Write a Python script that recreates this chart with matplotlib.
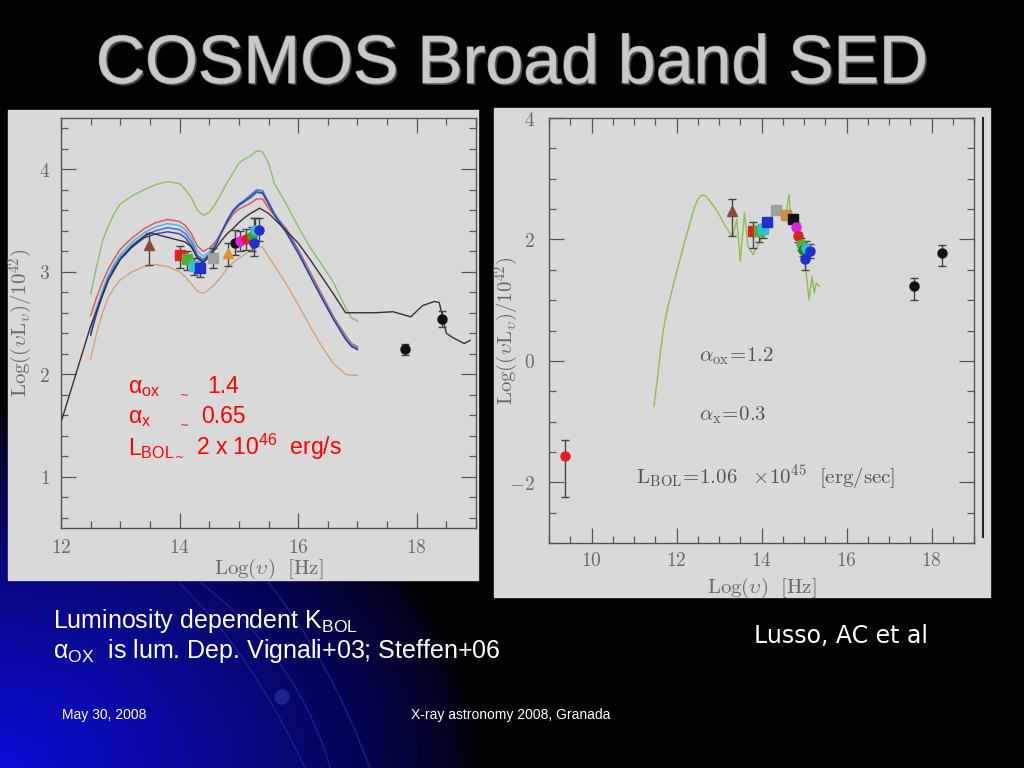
import numpy as np
import matplotlib
matplotlib.use('Agg')
import matplotlib.pyplot as plt
from matplotlib.patches import Rectangle, PathPatch, Circle
from matplotlib.path import Path
from matplotlib.ticker import MultipleLocator, FuncFormatter
import matplotlib.patheffects as pe

plt.rcParams['mathtext.fontset'] = 'cm'
plt.rcParams['mathtext.rm'] = 'Liberation Sans'
plt.rcParams['mathtext.it'] = 'Liberation Sans:italic'
plt.rcParams['mathtext.bf'] = 'Liberation Sans:bold'

# ---- left panel: AGN templates (log nu, log nuLnu/1e42)
tpl_x = [12.5, 12.6, 12.7, 12.8, 12.9, 13.0, 13.2, 13.4, 13.6, 13.8, 14.0, 14.1,
         14.2, 14.3, 14.4, 14.5, 14.6, 14.7, 14.8, 14.9, 15.0, 15.1, 15.2, 15.3,
         15.4, 15.5, 15.6, 15.8, 16.0, 16.2, 16.4, 16.6, 16.8, 16.9, 17.0]
tpl_green = [2.78, 3.05, 3.30, 3.45, 3.57, 3.66, 3.74, 3.80, 3.85, 3.88, 3.86, 3.80,
             3.72, 3.60, 3.55, 3.58, 3.66, 3.76, 3.87, 3.96, 4.06, 4.10, 4.13, 4.18,
             4.17, 4.06, 3.86, 3.66, 3.44, 3.24, 3.07, 2.89, 2.65, 2.55, 2.52]
tpl_red = [2.57, 2.75, 2.90, 3.03, 3.13, 3.22, 3.33, 3.42, 3.48, 3.51, 3.49, 3.45,
           3.37, 3.25, 3.20, 3.23, 3.29, 3.38, 3.47, 3.56, 3.61, 3.64, 3.67, 3.71,
           3.71, 3.62, 3.55, 3.42, 3.22, 3.00, 2.78, 2.56, 2.38, 2.30, 2.27]
tpl_cyan = [2.45, 2.65, 2.82, 2.97, 3.08, 3.17, 3.29, 3.38, 3.44, 3.47, 3.45, 3.41,
            3.33, 3.20, 3.15, 3.19, 3.27, 3.38, 3.49, 3.58, 3.64, 3.68, 3.72, 3.77,
            3.76, 3.66, 3.56, 3.40, 3.20, 2.98, 2.76, 2.55, 2.36, 2.29, 2.26]
tpl_blue = [2.40, 2.61, 2.79, 2.94, 3.05, 3.14, 3.26, 3.35, 3.40, 3.43, 3.41, 3.37,
            3.29, 3.16, 3.12, 3.17, 3.26, 3.38, 3.50, 3.60, 3.66, 3.70, 3.75, 3.80,
            3.79, 3.68, 3.57, 3.40, 3.20, 2.97, 2.75, 2.54, 2.35, 2.28, 2.25]
tpl_navy = [2.38, 2.59, 2.77, 2.92, 3.03, 3.12, 3.24, 3.33, 3.37, 3.39, 3.37, 3.33,
            3.25, 3.13, 3.09, 3.14, 3.24, 3.37, 3.49, 3.59, 3.65, 3.69, 3.73, 3.78,
            3.77, 3.66, 3.55, 3.38, 3.18, 2.96, 2.74, 2.53, 2.34, 2.27, 2.24]
tpl_orange = [2.15, 2.40, 2.60, 2.75, 2.85, 2.92, 3.00, 3.05, 3.07, 3.05, 3.00, 2.95,
              2.88, 2.81, 2.79, 2.83, 2.88, 2.95, 3.03, 3.09, 3.13, 3.17, 3.21, 3.25,
              3.24, 3.15, 3.06, 2.88, 2.68, 2.47, 2.27, 2.10, 2.00, 1.99, 1.99]

sed_x = [12.0, 12.5, 12.6, 12.8, 13.0, 13.2, 13.4, 13.5, 13.7, 13.9, 14.1, 14.2, 14.3,
         14.4, 14.5, 14.6, 14.7, 14.8, 14.9, 15.0, 15.1, 15.2, 15.35, 15.5, 15.8, 16.0,
         16.2, 16.4, 16.6, 16.8, 17.0, 17.3, 17.6, 17.9, 18.1, 18.3, 18.38, 18.5, 18.6,
         18.8, 18.9]
sed_y = [1.53, 2.47, 2.62, 2.92, 3.12, 3.25, 3.34, 3.38, 3.35, 3.32, 3.29, 3.24, 3.14,
         3.10, 3.16, 3.22, 3.30, 3.37, 3.42, 3.48, 3.53, 3.57, 3.62, 3.57, 3.40, 3.28,
         3.12, 2.95, 2.78, 2.60, 2.60, 2.60, 2.61, 2.56, 2.67, 2.71, 2.70, 2.40, 2.36,
         2.30, 2.33]

L_x = [13.49, 14.00, 14.13, 14.24, 14.35, 14.57, 14.82, 14.94, 15.02, 15.12, 15.22,
       15.27, 15.26, 15.34, 17.80, 18.43]
L_y = [3.26, 3.16, 3.12, 3.06, 3.04, 3.13, 3.18, 3.28, 3.30, 3.32, 3.35, 3.41, 3.28,
       3.41, 2.25, 2.54]
L_lo = [3.07, 3.04, 3.02, 2.97, 2.95, 3.04, 3.06, 3.16, 3.20, 3.21, 3.20, 3.30, 3.15,
        3.30, 2.19, 2.46]
L_hi = [3.38, 3.25, 3.20, 3.13, 3.10, 3.23, 3.28, 3.41, 3.40, 3.42, 3.44, 3.52, 3.52,
        3.52, 2.30, 2.62]
L_col = ['#8b4a3a', '#e02020', '#50b030', '#30c0d0', '#2030d0', '#a0a0a0', '#e09030',
         '#111111', '#e020e0', '#e02020', '#40a030', '#30c0d0', '#2030d0', '#2030d0',
         '#111111', '#111111']
L_mk = ['^', 's', 's', 's', 's', 's', '^', 'o', 'o', 'o', 'o', 'o', 'o', 'o', 'o', 'o']

# ---- right panel
G_x = [11.47, 11.55, 11.62, 11.69, 11.80, 11.90, 12.00, 12.10, 12.20, 12.32, 12.42,
       12.50, 12.59, 12.68, 12.80, 12.98, 13.10, 13.25, 13.33, 13.42, 13.50, 13.60,
       13.68, 13.80, 13.95, 14.11, 14.26, 14.42, 14.58, 14.65, 14.68, 14.81, 14.93,
       15.01, 15.06, 15.12, 15.19, 15.24, 15.29, 15.36]
G_y = [-0.75, -0.30, 0.15, 0.51, 0.90, 1.18, 1.45, 1.72, 1.98, 2.28, 2.52, 2.66, 2.73,
       2.72, 2.62, 2.44, 2.28, 2.11, 2.05, 2.33, 1.64, 2.44, 1.89, 1.75, 1.95, 2.17,
       2.39, 2.47, 2.44, 2.74, 2.39, 2.28, 2.00, 1.72, 1.39, 1.01, 1.39, 1.12, 1.28,
       1.23]

R_x = [9.37, 13.31, 13.80, 13.94, 14.03, 14.12, 14.34, 14.58, 14.73, 14.80, 14.87,
       14.93, 14.98, 15.05, 15.14, 15.03, 17.58, 18.24]
R_y = [-1.56, 2.47, 2.14, 2.14, 2.17, 2.28, 2.48, 2.41, 2.34, 2.21, 2.05, 1.92, 1.83,
       1.86, 1.81, 1.68, 1.23, 1.77]
R_lo = [-2.24, 2.05, 1.86, 1.95, 2.03, 2.22, 2.43, 2.35, 2.28, 2.15, 1.96, 1.82, 1.72,
        1.75, 1.70, 1.50, 1.01, 1.56]
R_hi = [-1.31, 2.66, 2.29, 2.22, 2.26, 2.33, 2.54, 2.46, 2.40, 2.27, 2.13, 2.02, 1.93,
        1.97, 1.92, 1.80, 1.37, 1.91]
R_col = ['#e02020', '#8b4a3a', '#e02020', '#50b030', '#30c0d0', '#2030d0', '#a0a0a0',
         '#c89040', '#111111', '#e020e0', '#e02020', '#50b030', '#208020', '#30c0d0',
         '#2030d0', '#2030d0', '#111111', '#111111']
R_mk = ['o', '^', 's', 's', 's', 's', 's', 's', 's', 'o', 'o', 'o', 'o', 'o', 'o', 'o',
        'o', 'o']

fig = plt.figure(figsize=(10.24, 7.68), dpi=100)

# slide background
bg = fig.add_axes([0, 0, 1, 1])
bg.set_xlim(0, 1024)
bg.set_ylim(768, 0)
bg.axis('off')
yy, xx = np.mgrid[0:768, 0:1024]
d = np.sqrt((xx / 480.0) ** 2 + ((768 - yy) / 360.0) ** 2)
k = np.clip(1 - d, 0, 1) ** 0.7
img = np.dstack([0.05 * k, 0.05 * k, 0.85 * k])
bg.imshow(img, extent=[0, 1024, 768, 0], aspect='auto', zorder=0)
for p0, p1, p2 in [((178, 582), (250, 650), (305, 768)),
                   ((200, 582), (300, 660), (330, 768)),
                   ((268, 582), (330, 660), (370, 768))]:
    path = Path([p0, p1, p2], [Path.MOVETO, Path.CURVE3, Path.CURVE3])
    bg.add_patch(PathPatch(path, fc='none', ec='#1a2290', lw=0.9, zorder=1))
bg.add_patch(Circle((282, 697), 7, color='#1a2290', zorder=1))
bg.add_patch(Rectangle((8, 110), 470, 470, color='#d9d9d9', zorder=2))
bg.add_patch(Rectangle((494, 108), 496, 489, color='#d9d9d9', zorder=2))
bg.plot([983, 983], [118, 537], color='#222222', lw=1.5, zorder=3)

bg.text(512, 65, 'COSMOS Broad band SED', fontsize=49, family='Liberation Sans',
        color='#c8c8c8', ha='center', va='center', zorder=5,
        path_effects=[pe.withSimplePatchShadow(offset=(1.5, -1.5), shadow_rgbFace='#404040', alpha=1),
                      pe.withStroke(linewidth=1, foreground='#8a8a8a')])

bg.text(53, 628, r'Luminosity dependent K$_{\mathrm{BOL}}$', fontsize=18,
        family='Liberation Sans', math_fontfamily='custom', color='white', zorder=5)
bg.text(53, 658, r'α$_{\mathrm{OX}}$  is lum. Dep. Vignali+03; Steffen+06', fontsize=18,
        family='Liberation Sans', math_fontfamily='custom', color='white', zorder=5)
bg.text(754, 643, 'Lusso, AC et al', fontsize=17, family='DejaVu Sans', color='white', zorder=5)
bg.text(62, 719, 'May 30, 2008', fontsize=10, family='Liberation Sans', color='white', zorder=5)
bg.text(411, 719, 'X-ray astronomy 2008, Granada', fontsize=10, family='Liberation Sans',
        color='white', zorder=5)


def style(ax, yminor, xlab_y, ylab_x):
    ax.set_facecolor('none')
    for s in ax.spines.values():
        s.set_color('#555555')
        s.set_linewidth(1.0)
    ax.xaxis.set_major_locator(MultipleLocator(2))
    ax.xaxis.set_minor_locator(MultipleLocator(0.5))
    ax.yaxis.set_minor_locator(MultipleLocator(yminor))
    fmt = FuncFormatter(lambda v, p: '$%g$' % v)
    ax.xaxis.set_major_formatter(fmt)
    ax.yaxis.set_major_formatter(fmt)
    ax.tick_params(which='both', direction='in', top=True, right=True, color='#555555',
                   width=0.9, labelcolor='#6a6a6a', labelsize=14)
    ax.tick_params(which='major', length=11, pad=8)
    ax.tick_params(which='minor', length=5)
    ax.set_xlabel(r'$\mathrm{Log}(\upsilon)\ \ [\mathrm{Hz}]$', fontsize=15, color='#6a6a6a')
    ax.set_ylabel(r'$\mathrm{Log}((\upsilon\mathrm{L}_\upsilon)/10^{42})$', fontsize=15,
                  color='#6a6a6a')
    ax.xaxis.set_label_coords(0.5, xlab_y)
    ax.yaxis.set_label_coords(ylab_x, 0.5)
    ax.xaxis.label.set_va('center')
    ax.yaxis.label.set_va('center')


# left panel
ax1 = fig.add_axes([61 / 1024, 240 / 768, 415 / 1024, 410 / 768], zorder=3)
ax1.plot(tpl_x, tpl_green, color='#8cbf64', lw=1)
ax1.plot(tpl_x, tpl_orange, color='#d9a070', lw=1)
ax1.plot(tpl_x, tpl_red, color='#e05050', lw=1)
ax1.plot(tpl_x, tpl_cyan, color='#50b0e0', lw=1)
ax1.plot(tpl_x, tpl_blue, color='#5070e0', lw=1.2)
ax1.plot(tpl_x, tpl_navy, color='#404090', lw=1)
ax1.plot(sed_x, sed_y, color='#333333', lw=1)
for i in range(len(L_x)):
    ax1.errorbar(L_x[i], L_y[i], yerr=[[L_y[i] - L_lo[i]], [L_hi[i] - L_y[i]]],
                 fmt=L_mk[i], color=L_col[i], ecolor='#444444', elinewidth=1, capsize=3,
                 ms=6.5, zorder=4)
ax1.set_xlim(12, 19)
ax1.set_ylim(0.5, 4.5)
ax1.yaxis.set_major_locator(MultipleLocator(1))
style(ax1, 0.2, -0.1, -0.096)
ax1.tick_params(axis='x', which='major', pad=7)

red_kw = dict(transform=ax1.transAxes, color='#ff0000', family='Liberation Sans',
              math_fontfamily='custom', fontsize=16.5)
ax1.text(0.161, 0.329, r'α$_{\mathrm{ox}}$', **red_kw)
ax1.text(0.287, 0.315, '~', color='#ff0000', fontsize=8, transform=ax1.transAxes)
ax1.text(0.352, 0.329, '1.4', **red_kw)
ax1.text(0.161, 0.256, r'α$_{\mathrm{x}}$', **red_kw)
ax1.text(0.287, 0.242, '~', color='#ff0000', fontsize=8, transform=ax1.transAxes)
ax1.text(0.337, 0.256, '0.65', **red_kw)
ax1.text(0.161, 0.178, r'L$_{\mathrm{BOL}}$', **red_kw)
ax1.text(0.275, 0.164, '~', color='#ff0000', fontsize=8, transform=ax1.transAxes)
ax1.text(0.325, 0.178, r'2 x 10$^{46}$  erg/s', **red_kw)

# right panel
ax2 = fig.add_axes([549 / 1024, 225 / 768, 425 / 1024, 425 / 768], zorder=3)
ax2.plot(G_x, G_y, color='#8cbf50', lw=1)
for i in range(len(R_x)):
    ax2.errorbar(R_x[i], R_y[i], yerr=[[R_y[i] - R_lo[i]], [R_hi[i] - R_y[i]]],
                 fmt=R_mk[i], color=R_col[i], ecolor='#444444', elinewidth=1, capsize=3,
                 ms=6.5, zorder=4)
ax2.set_xlim(9, 19)
ax2.set_ylim(-3, 4)
ax2.yaxis.set_major_locator(MultipleLocator(2))
style(ax2, 0.5, -0.105, -0.099)
ax2.tick_params(axis='y', which='major', pad=10)
ax2.tick_params(axis='x', which='major', pad=6)

gray_kw = dict(color='#555555', fontsize=15, va='center')
ax2.text(12.53, 0.08, r'$\alpha_{\rm ox}\!=\!1.2$', **gray_kw)
ax2.text(12.53, -0.9, r'$\alpha_{\rm x}\!=\!0.3$', **gray_kw)
ax2.text(11.05, -1.92, r'$\mathrm{L_{BOL}\!=\!1.06\ \ \times\!10^{45}\ \ [erg/sec]}$', **gray_kw)

fig.savefig('out.png', dpi=100, facecolor='black')
